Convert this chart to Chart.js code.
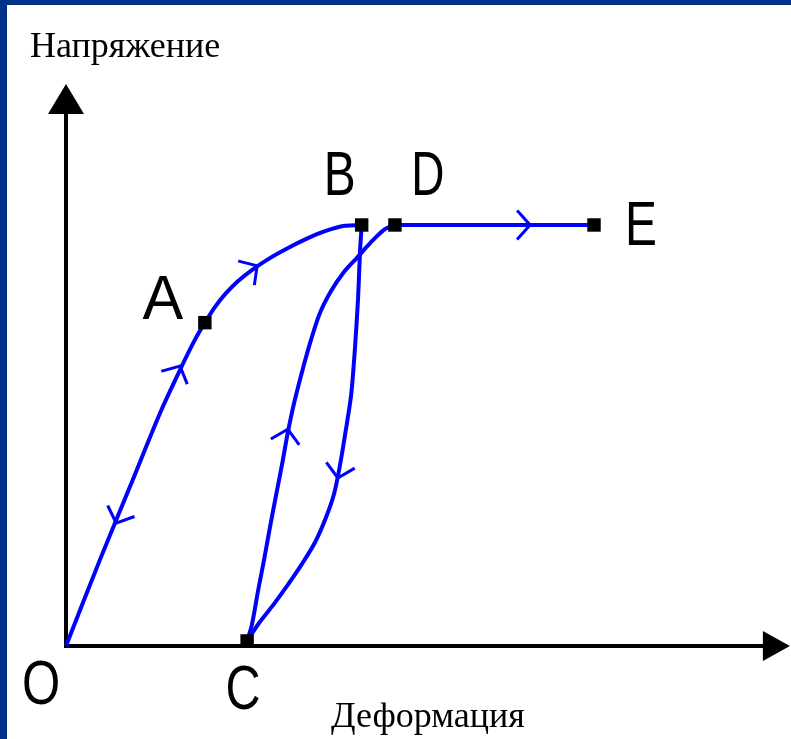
<!DOCTYPE html>
<html><head><meta charset="utf-8">
<script src="https://cdn.jsdelivr.net/npm/chart.js@4.4.1/dist/chart.umd.min.js"></script>
<style>
html,body{margin:0;padding:0;background:#fff;}
#wrap{position:relative;width:791px;height:739px;overflow:hidden;}
canvas{display:block;}
</style></head><body>
<div id="wrap"><canvas id="c" width="791" height="739"></canvas></div>
<script>
// ---- Data (x: deformation, y: stress; arbitrary units) ----
const pointNames = ['O', 'A', 'B', 'C', 'D', 'E'];
const pointX = [0, 26.3, 56.0, 34.3, 62.3, 100];
const pointY = [0, 76.8, 100, 1.2, 100, 100];

// loading O -> A (elastic region)
const oaX = [0, 6.4, 12.1, 17.8, 21.6, 24.4, 26.3];
const oaY = [0, 20.4, 37.8, 55.3, 65.6, 72.7, 76.8];
// A -> B
const abX = [26.3, 28.2, 30.3, 32.6, 35.2, 38.3, 41.7, 45.5, 49.2, 52.8, 56.0];
const abY = [76.8, 80.5, 83.8, 86.7, 89.3, 91.9, 94.3, 96.7, 98.6, 99.8, 100];
// unloading B -> C
const bcX = [56.0, 55.7, 55.3, 54.7, 54.0, 53.0, 51.9, 50.8, 49.2, 47.2, 44.7, 42.0, 39.4, 36.7, 34.3];
const bcY = [100, 94.1, 82.2, 70.3, 59.6, 51.3, 43.0, 36.3, 30.4, 24.7, 19.5, 14.5, 10.0, 5.7, 1.2];
// reloading C -> D
const cdX = [34.3, 35.2, 36.4, 37.5, 38.6, 39.8, 40.9, 42.0, 43.2, 44.7, 46.4, 48.1, 50.2, 52.5, 55.1, 57.6, 60.4, 62.3];
const cdY = [1.2, 5.0, 13.3, 20.4, 28.0, 35.9, 43.0, 50.6, 57.7, 65.1, 72.7, 79.1, 84.3, 88.6, 92.2, 95.7, 99.0, 100];
// D -> E (yield plateau)
const deX = [62.3, 100];
const deY = [100, 100];

// direction arrows on the paths
const arrowSeries = ['OA', 'OA', 'AB', 'CD', 'BC', 'DE'];
const arrowX = [9.5, 21.6, 36.2, 42.0, 51.5, 87.9];
const arrowY = [29.2, 66.5, 90.3, 51.5, 39.9, 100];
const arrowSense = [-1, 1, 1, 1, 1, 1];

// axes extents (tips of the arrows)
const xAxisTip = 137.1;
const yAxisTip = 133.5;

const yTitle = 'Напряжение';
const xTitle = 'Деформация';

// ---- helpers ----
const toPts = (xs, ys) => xs.map((x, i) => ({ x: x, y: ys[i] }));
const curveStyle = { showLine: true, borderColor: '#0000ff', borderWidth: 4, pointRadius: 0, pointHoverRadius: 0, tension: 0.3, fill: false, order: 2 };

const frameAndAxes = {
  id: 'frameAndAxes',
  beforeDraw(chart) {
    const ctx = chart.ctx;
    ctx.save();
    ctx.fillStyle = '#ffffff';
    ctx.fillRect(0, 0, chart.width, chart.height);
    ctx.fillStyle = '#00308a';
    ctx.fillRect(0, 0, chart.width, 5);
    ctx.fillRect(0, 0, 7, chart.height);
    ctx.restore();
  },
  beforeDatasetsDraw(chart) {
    const ctx = chart.ctx, xs = chart.scales.x, ys = chart.scales.y;
    const ox = xs.getPixelForValue(0), oy = ys.getPixelForValue(0);
    const xt = xs.getPixelForValue(xAxisTip), yt = ys.getPixelForValue(yAxisTip);
    ctx.save();
    ctx.strokeStyle = '#000'; ctx.fillStyle = '#000'; ctx.lineWidth = 4; ctx.lineCap = 'butt';
    ctx.beginPath();
    ctx.moveTo(ox - 2, oy); ctx.lineTo(xt - 20, oy);
    ctx.moveTo(ox, oy + 2); ctx.lineTo(ox, yt + 20);
    ctx.stroke();
    // x arrow head
    ctx.beginPath();
    ctx.moveTo(xt, oy); ctx.lineTo(xt - 27, oy - 15); ctx.lineTo(xt - 27, oy + 15); ctx.closePath(); ctx.fill();
    // y arrow head
    ctx.beginPath();
    ctx.moveTo(ox, yt); ctx.lineTo(ox - 18, yt + 30); ctx.lineTo(ox + 18, yt + 30); ctx.closePath(); ctx.fill();
    ctx.restore();
  },
  afterDatasetsDraw(chart, args, opts) {
    const ctx = chart.ctx, xs = chart.scales.x, ys = chart.scales.y;
    // arrows
    const byName = {};
    chart.data.datasets.forEach(d => { byName[d.label] = d.data; });
    ctx.save();
    ctx.strokeStyle = '#0000ff'; ctx.lineWidth = 3; ctx.lineCap = 'square';
    arrowSeries.forEach((s, i) => {
      const px = xs.getPixelForValue(arrowX[i]), py = ys.getPixelForValue(arrowY[i]);
      const pts = byName[s].map(p => [xs.getPixelForValue(p.x), ys.getPixelForValue(p.y)]);
      let best = 1e9, dir = [1, 0];
      for (let k = 0; k < pts.length - 1; k++) {
        const [x1, y1] = pts[k], [x2, y2] = pts[k + 1];
        const vx = x2 - x1, vy = y2 - y1, L2 = vx * vx + vy * vy;
        if (!L2) continue;
        let t = ((px - x1) * vx + (py - y1) * vy) / L2; t = Math.max(0, Math.min(1, t));
        const dx = x1 + t * vx - px, dy = y1 + t * vy - py, dd = dx * dx + dy * dy;
        if (dd < best) { best = dd; const L = Math.sqrt(L2); dir = [vx / L, vy / L]; }
      }
      const bx = -dir[0] * arrowSense[i], by = -dir[1] * arrowSense[i];
      const a = opts.arrowAngle * Math.PI / 180, len = opts.arrowLen;
      ctx.beginPath();
      [a, -a].forEach(r => {
        const ax = bx * Math.cos(r) - by * Math.sin(r), ay = bx * Math.sin(r) + by * Math.cos(r);
        ctx.moveTo(px, py); ctx.lineTo(px + ax * len, py + ay * len);
      });
      ctx.stroke();
    });
    ctx.restore();
    // point labels
    ctx.save();
    ctx.fillStyle = '#000';
    ctx.font = '63px "Liberation Sans", Arial, sans-serif';
    ctx.textAlign = 'center'; ctx.textBaseline = 'alphabetic';
    pointNames.forEach((n, i) => {
      const o = opts.labelOffsets[n];
      const cx = xs.getPixelForValue(pointX[i]) + o[0], cy = ys.getPixelForValue(pointY[i]) + o[1];
      ctx.save(); ctx.translate(cx, cy); ctx.scale(o[2], 1);
      ctx.fillText(n, 0, 22.5);
      ctx.restore();
    });
    ctx.restore();
    // axis titles
    ctx.save();
    ctx.fillStyle = '#000';
    ctx.font = '36px "Liberation Serif", "Times New Roman", serif';
    ctx.textBaseline = 'alphabetic';
    ctx.textAlign = 'left';
    ctx.fillText(yTitle, 30, 57);
    ctx.textAlign = 'center';
    ctx.fillText(xTitle, 428, 727);
    ctx.restore();
  }
};

new Chart(document.getElementById('c'), {
  type: 'scatter',
  data: {
    datasets: [
      { label: 'OA', data: toPts(oaX, oaY), ...curveStyle },
      { label: 'AB', data: toPts(abX, abY), ...curveStyle },
      { label: 'BC', data: toPts(bcX, bcY), ...curveStyle },
      { label: 'CD', data: toPts(cdX, cdY), ...curveStyle },
      { label: 'DE', data: toPts(deX, deY), ...curveStyle, tension: 0 },
      { label: 'points', data: toPts(pointX.slice(1), pointY.slice(1)), showLine: false, pointStyle: 'rect', pointRadius: 9.5, pointHoverRadius: 9.5, backgroundColor: '#000', borderColor: '#000', borderWidth: 0, order: 1 }
    ]
  },
  options: {
    responsive: false, animation: false, devicePixelRatio: 1, events: [],
    layout: { padding: 0, autoPadding: false },
    plugins: {
      legend: { display: false }, tooltip: { enabled: false },
      frameAndAxes: {
        arrowAngle: 48, arrowLen: 18,
        labelOffsets: { O: [-25, 36, 0.78], A: [-42, -26, 0.97], B: [-22, -52, 0.76], C: [-4, 46, 0.77], D: [33, -52, 0.73], E: [47, -2, 0.76] }
      }
    },
    scales: {
      x: { type: 'linear', min: -12.5, max: 137.31, display: false },
      y: { type: 'linear', min: -22.09, max: 153.44, display: false }
    }
  },
  plugins: [frameAndAxes]
});
</script>
</body></html>
